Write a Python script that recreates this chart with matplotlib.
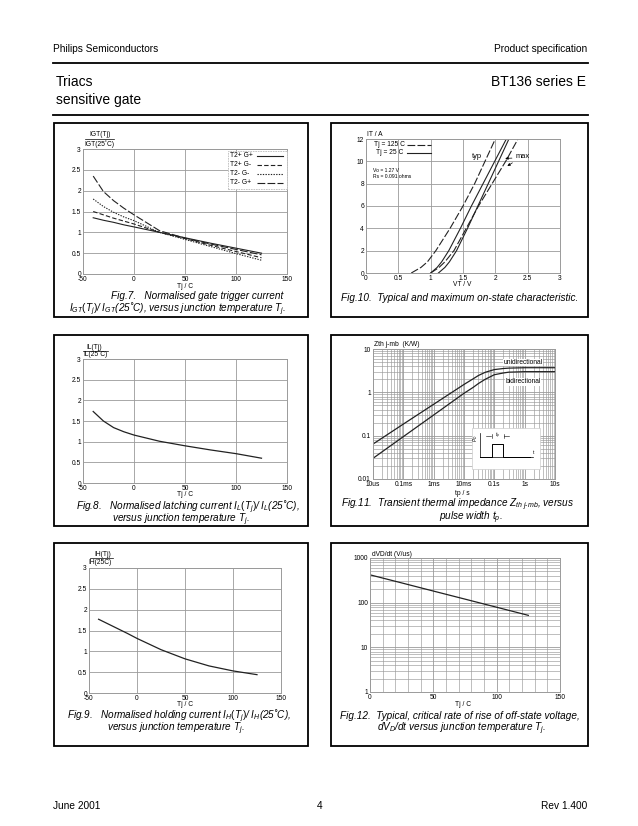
import matplotlib
matplotlib.use("Agg")
import matplotlib.pyplot as plt
from matplotlib.lines import Line2D
from matplotlib.patches import Rectangle
from matplotlib.ticker import FixedLocator, NullFormatter, LogLocator

plt.rcParams['font.family'] = ['Liberation Sans', 'DejaVu Sans']
plt.rcParams['mathtext.fontset'] = 'custom'
plt.rcParams['mathtext.rm'] = 'Liberation Sans'
plt.rcParams['mathtext.it'] = 'Liberation Sans:italic'
plt.rcParams['mathtext.bf'] = 'Liberation Sans:bold'
plt.rcParams['axes.unicode_minus'] = False

# ---------------- data ----------------
# Fig.7 normalised gate trigger current
tj7 = [-40, -30, -20, -10, 0, 25, 50, 75, 100, 125]
igt_t2p_gp = [1.35, 1.29, 1.24, 1.18, 1.13, 1.00, 0.87, 0.74, 0.62, 0.50]
igt_t2p_gn = [1.50, 1.42, 1.34, 1.27, 1.20, 1.00, 0.85, 0.69, 0.54, 0.39]
igt_t2n_gn = [1.80, 1.62, 1.48, 1.37, 1.28, 1.00, 0.83, 0.66, 0.49, 0.33]
igt_t2n_gp = [2.35, 1.98, 1.76, 1.58, 1.42, 1.04, 0.86, 0.72, 0.59, 0.46]
legend7 = ['T2+ G+', 'T2+ G-', 'T2- G-', 'T2- G+']

# Fig.10 on-state characteristic
it10 = [0, 0.5, 1, 2, 4, 6, 8, 10, 12]
vt_typ125 = [0.70, 0.85, 0.95, 1.08, 1.30, 1.50, 1.68, 1.84, 2.00]
vt_typ25 = [1.00, 1.10, 1.17, 1.28, 1.46, 1.63, 1.81, 1.99, 2.17]
vt_max125 = [1.00, 1.13, 1.22, 1.36, 1.55, 1.74, 1.95, 2.16, 2.35]
vt_max25 = [1.12, 1.22, 1.29, 1.40, 1.57, 1.73, 1.89, 2.05, 2.21]

# Fig.8 latching current
tj8 = [-40, -30, -20, -10, 0, 25, 50, 75, 100, 125]
il8 = [1.73, 1.50, 1.34, 1.24, 1.16, 1.01, 0.90, 0.80, 0.71, 0.60]

# Fig.11 transient thermal impedance
tp11 = [1e-5, 1e-4, 1e-3, 1e-2, 2e-2, 3e-2, 5e-2, 0.1, 0.2, 0.3, 1, 10]
zth_uni = [0.064, 0.185, 0.53, 1.52, 2.05, 2.45, 2.90, 3.35, 3.55, 3.62, 3.70, 3.70]
zth_bi = [0.030, 0.095, 0.30, 0.95, 1.30, 1.60, 2.00, 2.55, 2.80, 2.92, 3.00, 3.00]
xt11 = [1e-5, 1e-4, 1e-3, 1e-2, 1e-1, 1, 10]
xl11 = ['10us', '0.1ms', '1ms', '10ms', '0.1s', '1s', '10s']
yt11 = [0.01, 0.1, 1, 10]
yl11 = ['0.01', '0.1', '1', '10']

# Fig.9 holding current
tj9 = [-40, -25, -10, 0, 25, 50, 75, 100, 125]
ih9 = [1.77, 1.60, 1.43, 1.31, 1.04, 0.82, 0.65, 0.53, 0.44]

# Fig.12 dVD/dt
tj12 = [0, 25, 50, 75, 100, 125]
dvdt12 = [420, 277, 182, 120, 79, 52]
yt12 = [1, 10, 100, 1000]
yl12 = ['1', '10', '100', '1000']

# ---------------- helpers ----------------
W, H = 638, 826
fig = plt.figure(figsize=(W / 100, H / 100), dpi=100)
GRID = '#9a9a9a'
TICK_FS = 4.8
CAP_FS = 7.2


def rect(x0, y0, x1, y1):
    return [x0 / W, 1 - y1 / H, (x1 - x0) / W, (y1 - y0) / H]


def ftext(x, y, s, **kw):
    kw.setdefault('fontsize', TICK_FS)
    kw.setdefault('va', 'center')
    return fig.text(x / W, 1 - y / H, s, **kw)


def fline(xs, ys, **kw):
    kw.setdefault('color', 'black')
    fig.add_artist(Line2D([x / W for x in xs], [1 - y / H for y in ys],
                          transform=fig.transFigure, **kw))


def fbox(x0, y0, x1, y1, **kw):
    fig.add_artist(Rectangle((x0 / W, 1 - y1 / H), (x1 - x0) / W, (y1 - y0) / H,
                             transform=fig.transFigure, **kw))


def style(ax):
    for sp in ax.spines.values():
        sp.set_color(GRID)
        sp.set_linewidth(0.7)
    ax.tick_params(length=0, pad=1.5, labelsize=TICK_FS, which='both')
    ax.grid(True, which='major', color=GRID, lw=0.6)
    ax.set_axisbelow(True)


# ---------------- page header / footer ----------------
ftext(53, 49, 'Philips Semiconductors', fontsize=7.3, ha='left')
ftext(587, 49, 'Product specification', fontsize=7.3, ha='right')
fline([53, 588], [63, 63], lw=1.3)
ftext(56, 82, 'Triacs', fontsize=10, ha='left')
ftext(56, 100, 'sensitive gate', fontsize=10, ha='left')
ftext(586, 82, 'BT136 series E', fontsize=10, ha='right')
fline([53, 588], [115, 115], lw=1.3)
ftext(53, 806, 'June 2001', fontsize=7.3, ha='left')
ftext(320, 806, '4', fontsize=7.3, ha='center')
ftext(587, 806, 'Rev 1.400', fontsize=7.3, ha='right')

# panel boxes
for (x0, y0, x1, y1) in [(54, 123, 308, 317), (331, 123, 588, 317),
                         (54, 335, 308, 526), (331, 335, 588, 526),
                         (54, 543, 308, 746), (331, 543, 588, 746)]:
    fbox(x0, y0, x1, y1, fill=False, ec='black', lw=1.3)

# ---------------- Fig.7 ----------------
ax = fig.add_axes(rect(83, 149, 287, 274))
style(ax)
ax.set_xlim(-50, 150)
ax.set_ylim(0, 3)
ax.set_xticks([-50, 0, 50, 100, 150])
ax.set_yticks([0, 0.5, 1, 1.5, 2, 2.5, 3])
ax.set_yticklabels(['0', '0.5', '1', '1.5', '2', '2.5', '3'])
styles7 = [dict(ls='-'), dict(ls=(0, (4, 2))), dict(ls=(0, (1.2, 1.2))), dict(ls=(0, (7, 2)))]
series7 = [igt_t2p_gp, igt_t2p_gn, igt_t2n_gn, igt_t2n_gp]
for ys, st in zip(series7, styles7):
    ax.plot(tj7, ys, color='#222222', lw=0.8, **st)
# legend
fbox(228, 151, 286.5, 188.5, fill=True, fc='white', ec='#bbbbbb', lw=0.6, ls=(0, (2, 1)))
for i, (lab, st) in enumerate(zip(legend7, styles7)):
    yy = [155.5, 164.5, 173.5, 182.5][i]
    ftext(230, yy, lab, ha='left')
    fline([257, 283], [yy, yy], lw=0.8, color='#222222', **st)
ftext(100, 134.5, 'IGT(Tj)', ha='center')
fline([85, 114], [139.5, 139.5], lw=0.5)
ftext(99, 144, 'IGT(25˚C)', ha='center')
ftext(185, 286, 'Tj / C', ha='center')
ftext(197, 296, 'Fig.7.   Normalised gate trigger current', fontsize=CAP_FS,
      style='italic', ha='center')
ftext(178, 309.5, r'$I_{GT}(T_j)$/ $I_{GT}$(25˚C), versus junction temperature $T_j$.',
      fontsize=CAP_FS, style='italic', ha='center')

# ---------------- Fig.10 ----------------
ax = fig.add_axes(rect(366, 139, 560, 273))
style(ax)
ax.set_xlim(0, 3)
ax.set_ylim(0, 12)
ax.set_xticks([0, 0.5, 1, 1.5, 2, 2.5, 3])
ax.set_xticklabels(['0', '0.5', '1', '1.5', '2', '2.5', '3'])
ax.set_yticks([0, 2, 4, 6, 8, 10, 12])
d125 = dict(ls=(0, (7, 2)))
ax.plot(vt_typ125, it10, color='#222222', lw=0.8, **d125)
ax.plot(vt_max125, it10, color='#222222', lw=0.8, **d125)
ax.plot(vt_typ25, it10, color='#222222', lw=0.8)
ax.plot(vt_max25, it10, color='#222222', lw=0.8)
ax.text(1.72, 10.4, 'typ', fontsize=TICK_FS + 0.6, ha='center', va='center')
ax.text(2.42, 10.4, 'max', fontsize=TICK_FS + 0.6, ha='center', va='center')
ax.annotate('', xy=(2.11, 10.25), xytext=(2.30, 10.3),
            arrowprops=dict(arrowstyle='-|>', lw=0.5, color='black', mutation_scale=4))
ax.annotate('', xy=(2.15, 9.45), xytext=(2.30, 10.0),
            arrowprops=dict(arrowstyle='-|>', lw=0.5, color='black', mutation_scale=4))
ftext(405, 145, 'Tj = 125 C', ha='right')
fline([407, 431], [145, 145], lw=0.8, color='#222222', **d125)
ftext(403, 153, 'Tj = 25 C', ha='right')
fline([407, 431], [153, 153], lw=0.8, color='#222222')
ftext(373, 170, 'Vo = 1.27 V', ha='left', fontsize=3.6)
ftext(373, 177, 'Rs = 0.091 ohms', ha='left', fontsize=3.6)
ftext(367, 135, 'IT / A', ha='left')
ftext(462, 285, 'VT / V', ha='center')
ftext(460, 298, 'Fig.10.  Typical and maximum on-state characteristic.',
      fontsize=CAP_FS, style='italic', ha='center')

# ---------------- Fig.8 ----------------
ax = fig.add_axes(rect(83, 359, 287, 483))
style(ax)
ax.set_xlim(-50, 150)
ax.set_ylim(0, 3)
ax.set_xticks([-50, 0, 50, 100, 150])
ax.set_yticks([0, 0.5, 1, 1.5, 2, 2.5, 3])
ax.set_yticklabels(['0', '0.5', '1', '1.5', '2', '2.5', '3'])
ax.plot(tj8, il8, color='#222222', lw=0.9)
ftext(94, 347, 'IL(Tj)', ha='center')
fline([83, 108], [350.5, 350.5], lw=0.5)
ftext(95, 354.5, 'IL(25˚C)', ha='center')
ftext(185, 494, 'Tj / C', ha='center')
ftext(188, 507, r'Fig.8.   Normalised latching current $I_L(T_j)$/ $I_L$(25˚C),',
      fontsize=CAP_FS, style='italic', ha='center')
ftext(181, 520, r'versus junction temperature $T_j$.',
      fontsize=CAP_FS, style='italic', ha='center')

# ---------------- Fig.11 ----------------
ax = fig.add_axes(rect(373, 349, 555, 479))
style(ax)
ax.set_xscale('log')
ax.set_yscale('log')
ax.set_xlim(1e-5, 10)
ax.set_ylim(0.01, 10)
ax.xaxis.set_major_locator(FixedLocator(xt11))
ax.set_xticklabels(xl11)
ax.yaxis.set_major_locator(FixedLocator(yt11))
ax.set_yticklabels(yl11)
ax.xaxis.set_minor_locator(LogLocator(base=10, subs=range(2, 10), numticks=20))
ax.yaxis.set_minor_locator(LogLocator(base=10, subs=range(2, 10), numticks=20))
ax.xaxis.set_minor_formatter(NullFormatter())
ax.yaxis.set_minor_formatter(NullFormatter())
ax.grid(True, which='minor', color=GRID, lw=0.45)
ax.plot(tp11, zth_uni, color='#222222', lw=0.9)
ax.plot(tp11, zth_bi, color='#222222', lw=0.9)
ax.text(0.9, 4.9, 'unidirectional', fontsize=TICK_FS, ha='center', va='center',
        bbox=dict(fc='white', ec='none', pad=0.3))
ax.text(0.9, 1.75, 'bidirectional', fontsize=TICK_FS, ha='center', va='center',
        bbox=dict(fc='white', ec='none', pad=0.3))
# inset pulse sketch
fbox(472, 428, 540, 469, fill=True, fc='white', ec='#cccccc', lw=0.5)
fline([480, 480], [457, 433], lw=0.5)
fline([480, 533], [457, 457], lw=0.5)
fline([480, 492, 492, 503, 503, 530], [457, 457, 444, 444, 457, 457], lw=0.7)
fline([486, 491], [436, 436], lw=0.4)
fline([509, 504], [436, 436], lw=0.4)
fline([491.5, 491.5], [434, 438], lw=0.4)
fline([503.5, 503.5], [434, 438], lw=0.4)
ftext(497.5, 436, r'$t_p$', fontsize=3.5, ha='center')
ftext(476, 438, r'$P_D$', fontsize=3.3, ha='center', rotation=90)
ftext(534, 453, 't', fontsize=3.5, ha='center')
ftext(374, 344, 'Zth j-mb  (K/W)', ha='left')
ftext(462, 493.5, 'tp / s', ha='center')
ftext(458, 504.5, r'Fig.11.  Transient thermal impedance $Z_{th\ j\text{-}mb}$, versus',
      fontsize=CAP_FS, style='italic', ha='center')
ftext(471, 517.5, r'pulse width $t_p$.',
      fontsize=CAP_FS, style='italic', ha='center')

# ---------------- Fig.9 ----------------
ax = fig.add_axes(rect(89, 568, 281, 693))
style(ax)
ax.set_xlim(-50, 150)
ax.set_ylim(0, 3)
ax.set_xticks([-50, 0, 50, 100, 150])
ax.set_yticks([0, 0.5, 1, 1.5, 2, 2.5, 3])
ax.set_yticklabels(['0', '0.5', '1', '1.5', '2', '2.5', '3'])
ax.plot(tj9, ih9, color='#222222', lw=0.9)
ftext(103, 554.5, 'IH(Tj)', ha='center')
fline([90, 113], [558, 558], lw=0.5)
ftext(100, 562.5, 'IH(25C)', ha='center')
ftext(185, 705, 'Tj / C', ha='center')
ftext(179, 716, r'Fig.9.   Normalised holding current $I_H(T_j)$/ $I_H$(25˚C),',
      fontsize=CAP_FS, style='italic', ha='center')
ftext(176, 729, r'versus junction temperature $T_j$.',
      fontsize=CAP_FS, style='italic', ha='center')

# ---------------- Fig.12 ----------------
ax = fig.add_axes(rect(370, 558, 560, 692))
style(ax)
ax.set_yscale('log')
ax.set_xlim(0, 150)
ax.set_ylim(1, 1000)
ax.set_xticks([0, 50, 100, 150])
ax.xaxis.set_minor_locator(FixedLocator(list(range(10, 150, 10))))
ax.yaxis.set_major_locator(FixedLocator(yt12))
ax.set_yticklabels(yl12)
ax.yaxis.set_minor_locator(LogLocator(base=10, subs=range(2, 10), numticks=20))
ax.yaxis.set_minor_formatter(NullFormatter())
ax.grid(True, which='minor', color=GRID, lw=0.45)
ax.plot(tj12, dvdt12, color='#222222', lw=0.9)
ftext(372, 554, 'dVD/dt (V/us)', ha='left')
ftext(463, 705, 'Tj / C', ha='center')
ftext(460, 716, 'Fig.12.  Typical, critical rate of rise of off-state voltage,',
      fontsize=CAP_FS, style='italic', ha='center')
ftext(462, 729, r'd$V_D$/dt versus junction temperature $T_j$.',
      fontsize=CAP_FS, style='italic', ha='center')

fig.savefig('out.png', dpi=100)
